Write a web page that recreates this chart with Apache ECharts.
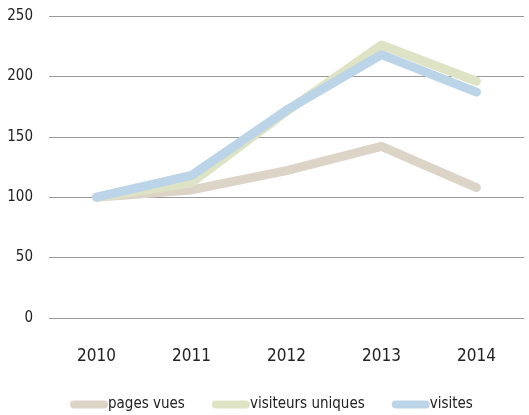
<!DOCTYPE html>
<html>
<head>
<meta charset="utf-8">
<script src="https://cdn.jsdelivr.net/npm/echarts@6/dist/echarts.min.js"></script>
<style>
  html, body { margin: 0; padding: 0; background: #fff; }
  #chart { width: 529px; height: 415px; }
</style>
</head>
<body>
<div id="chart"></div>
<script>
  var years = ['2010', '2011', '2012', '2013', '2014'];
  var pagesVues = [100, 106, 122, 142, 108];
  var visiteursUniques = [100, 112, 171, 226, 196];
  var visites = [100, 118, 172, 218, 187];

  var FONT = '"DejaVu Sans Condensed", sans-serif';
  // capsule-shaped legend marker
  var capsule = 'path://M4,0 H34 A4,4 0 0 1 34,8 H4 A4,4 0 0 1 4,0 Z';

  function lineSeries(name, data, color) {
    return {
      name: name,
      type: 'line',
      data: data,
      symbol: 'none',
      lineStyle: { width: 9, color: color, cap: 'round', join: 'round' },
      itemStyle: { color: color },
      emphasis: { disabled: true }
    };
  }

  var chart = echarts.init(document.getElementById('chart'));
  chart.setOption({
    animation: false,
    grid: { left: 49, right: 5, top: 16, bottom: 97 },
    legend: {
      left: 65,
      top: 392,
      itemWidth: 38,
      itemHeight: 8,
      itemGap: 27,
      icon: capsule,
      textStyle: { fontFamily: FONT, fontSize: 15, color: '#222', padding: [0, 0, 0, -5] },
      data: ['pages vues', 'visiteurs uniques', 'visites']
    },
    xAxis: {
      type: 'category',
      data: years,
      axisLine: { show: false },
      axisTick: { show: false },
      axisLabel: { fontFamily: FONT, fontSize: 17, color: '#222', margin: 30 }
    },
    yAxis: {
      type: 'value',
      min: 0,
      max: 250,
      interval: 50,
      axisLine: { show: false },
      axisTick: { show: false },
      axisLabel: { fontFamily: FONT, fontSize: 15, color: '#222', margin: 16 },
      splitLine: { lineStyle: { color: '#9a9a9a', width: 1 } }
    },
    series: [
      lineSeries('pages vues', pagesVues, '#ddd4c8'),
      lineSeries('visiteurs uniques', visiteursUniques, '#dde3c4'),
      lineSeries('visites', visites, '#bcd4e8')
    ]
  });
</script>
</body>
</html>
